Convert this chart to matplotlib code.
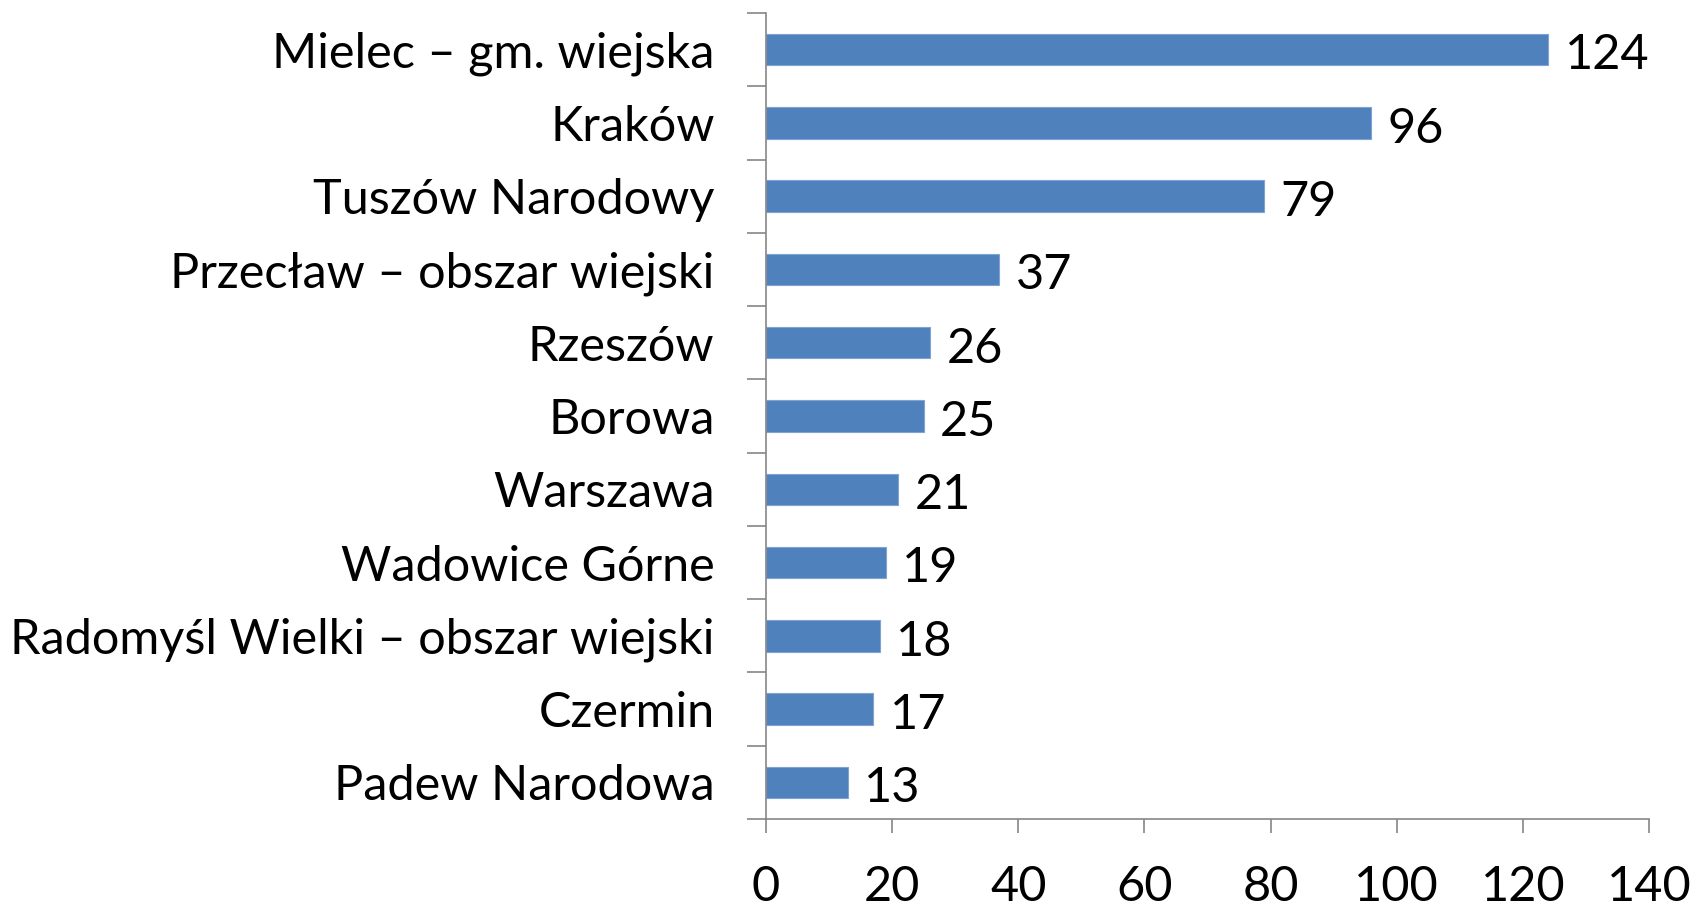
import matplotlib
matplotlib.use("Agg")
import matplotlib.pyplot as plt
import numpy as np

categories = ["Mielec – gm. wiejska", "Kraków", "Tuszów Narodowy",
              "Przecław – obszar wiejski", "Rzeszów", "Borowa", "Warszawa",
              "Wadowice Górne", "Radomyśl Wielki – obszar wiejski", "Czermin",
              "Padew Narodowa"]
values = [124, 96, 79, 37, 26, 25, 21, 19, 18, 17, 13]
xticks = [0, 20, 40, 60, 80, 100, 120, 140]

plt.rcParams['font.family'] = ['Lato', 'DejaVu Sans']
FS = 35

fig = plt.figure(figsize=(16.96, 9.09), dpi=100)
ax = fig.add_axes([766/1696, 1-819/909, (1649-766)/1696, (819-13)/909])

n = len(categories)
ypos = np.arange(n)[::-1]
ax.barh(ypos, values, height=0.43, color="#4F81BD", edgecolor="#7FA3D3", linewidth=0.8)
for y, v in zip(ypos, values):
    ax.text(v + 2.6, y - 0.08, str(v), va="center", ha="left", fontsize=FS)

ax.set_xlim(0, 140)
ax.set_ylim(-0.5, n - 0.5)
ax.set_xticks(xticks)
ax.set_xticklabels([str(t) for t in xticks], fontsize=FS)
ax.set_yticks(ypos)
ax.set_yticklabels(categories, fontsize=FS)
ax.set_yticks(np.arange(-0.5, n, 1.0), minor=True)

for s in ["top", "right"]:
    ax.spines[s].set_visible(False)
for s in ["left", "bottom"]:
    ax.spines[s].set_color("#868686")
    ax.spines[s].set_linewidth(1.2)

ax.tick_params(axis="y", which="major", length=0, pad=37)
ax.tick_params(axis="y", which="minor", length=13.7, color="#868686", width=1.2)
ax.tick_params(axis="x", which="major", length=10, color="#868686", width=1.2, pad=23)

fig.savefig("out.png", dpi=100)
